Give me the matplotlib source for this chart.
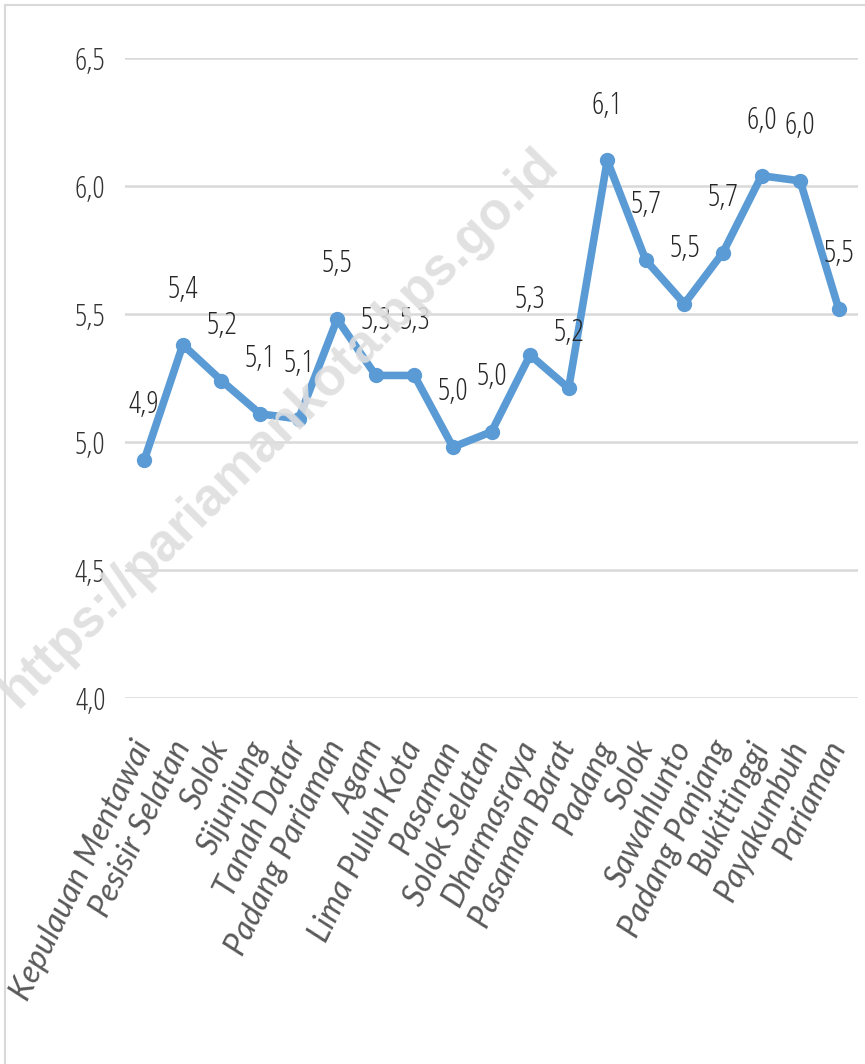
import matplotlib.pyplot as plt
from matplotlib.patches import Rectangle

# data
kabkota = ['Kepulauan Mentawai', 'Pesisir Selatan', 'Solok', 'Sijunjung', 'Tanah Datar',
           'Padang Pariaman', 'Agam', 'Lima Puluh Kota', 'Pasaman', 'Solok Selatan',
           'Dharmasraya', 'Pasaman Barat', 'Padang', 'Solok', 'Sawahlunto',
           'Padang Panjang', 'Bukittinggi', 'Payakumbuh', 'Pariaman']
nilai = [4.93, 5.38, 5.24, 5.11, 5.09, 5.48, 5.26, 5.26, 4.98, 5.04,
         5.34, 5.21, 6.10, 5.71, 5.54, 5.74, 6.04, 6.02, 5.52]
yticks = [4.0, 4.5, 5.0, 5.5, 6.0, 6.5]

blue = '#5B9BD5'
num_font = dict(family=['Open Sans', 'DejaVu Sans'], stretch='condensed')

fig = plt.figure(figsize=(8.65, 10.64), dpi=100)
ax = fig.add_axes([125 / 865, 1 - 698 / 1064, 733 / 865, 640 / 1064])

# chart border
fig.patches.append(Rectangle((5 / 865, -0.1), 1.2, (1064 - 5) / 1064 + 0.1,
                             transform=fig.transFigure, fill=False,
                             edgecolor='#d9d9d9', linewidth=1.5))

x = list(range(len(nilai)))
ax.plot(x, nilai, color=blue, linewidth=5.5, marker='o', markersize=10,
        solid_joinstyle='round', zorder=3)

for xi, v in zip(x, nilai):
    ax.annotate(f'{v:.1f}'.replace('.', ','), (xi, v), xytext=(0, 28),
                textcoords='offset points', ha='center', va='bottom',
                fontsize=22, color='#262626', **num_font)

ax.set_xlim(-0.5, len(nilai) - 0.5)
ax.set_ylim(4.0, 6.5)
ax.set_yticks(yticks)
ax.set_yticklabels([f'{t:.1f}'.replace('.', ',') for t in yticks],
                   fontsize=22, color='#333333', **num_font)
ax.set_xticks(x)
ax.set_xticklabels(kabkota, rotation=64, ha='right', va='center', rotation_mode='anchor',
                   fontsize=23, color='#595959', style='italic', family='Lato')
ax.tick_params(axis='both', length=0)
ax.tick_params(axis='y', pad=14)
ax.tick_params(axis='x', pad=32)
ax.grid(axis='y', color='#d9d9d9', linewidth=1.8)
ax.set_axisbelow(True)
for s in ax.spines.values():
    s.set_visible(False)
ax.patch.set_alpha(0)

# watermark, drawn over the chart
fig.text(0.322, 0.598, 'https://pariamankota.bps.go.id', rotation=45,
         fontsize=38, fontweight='bold', color='#dedede', alpha=0.9,
         ha='center', va='center', family='Liberation Sans', zorder=10)

plt.savefig('out.png', dpi=100)
